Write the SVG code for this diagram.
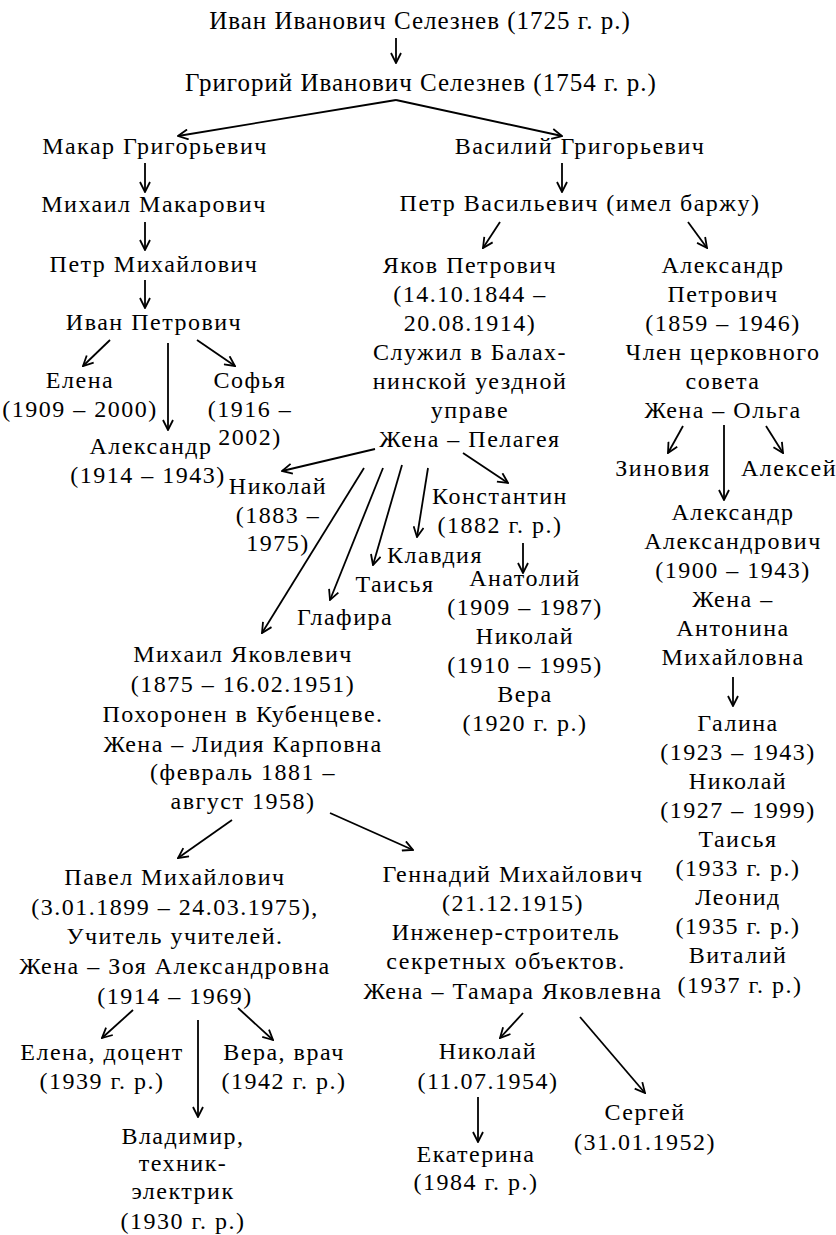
<svg xmlns="http://www.w3.org/2000/svg" width="836" height="1235" viewBox="0 0 836 1235">
<style>
text{font-family:"Liberation Serif","Times New Roman",serif;font-size:24px;letter-spacing:1.5px;fill:#000;text-anchor:middle}
.top{font-size:25px;letter-spacing:1px}
#edges line{stroke:#000;stroke-width:1.8;fill:none;marker-end:url(#ah)}
</style>
<defs>
<marker id="ah" viewBox="0 0 12 12" refX="11" refY="6" markerWidth="12" markerHeight="12" markerUnits="userSpaceOnUse" orient="auto">
<path d="M1,1 L11,6 L1,11" fill="none" stroke="#000" stroke-width="1.8"/>
</marker>
</defs>
<rect width="836" height="1235" fill="#fff"/>
<g id="edges">
<line x1="396" y1="38" x2="396" y2="63"/>
<line x1="396" y1="100" x2="178" y2="136"/>
<line x1="396" y1="100" x2="562" y2="136"/>
<line x1="145" y1="163" x2="145" y2="192"/>
<line x1="562" y1="163" x2="562" y2="192"/>
<line x1="145" y1="222" x2="145" y2="250"/>
<line x1="500" y1="222" x2="483" y2="248"/>
<line x1="688" y1="222" x2="707" y2="248"/>
<line x1="145" y1="280" x2="145" y2="308"/>
<line x1="110" y1="340" x2="83" y2="366"/>
<line x1="168" y1="343" x2="168" y2="430"/>
<line x1="197" y1="340" x2="235" y2="366"/>
<line x1="683" y1="426" x2="668" y2="453"/>
<line x1="724" y1="425" x2="724" y2="500"/>
<line x1="766" y1="426" x2="783" y2="453"/>
<line x1="733" y1="677" x2="733" y2="706"/>
<line x1="375" y1="449" x2="282" y2="471"/>
<line x1="364" y1="468" x2="262" y2="633"/>
<line x1="383" y1="468" x2="330" y2="600"/>
<line x1="402" y1="465" x2="373" y2="565"/>
<line x1="428" y1="468" x2="417" y2="537"/>
<line x1="463" y1="453" x2="508" y2="483"/>
<line x1="523" y1="543" x2="523" y2="573"/>
<line x1="232" y1="820" x2="178" y2="858"/>
<line x1="330" y1="813" x2="413" y2="850"/>
<line x1="133" y1="1010" x2="102" y2="1038"/>
<line x1="198" y1="1020" x2="198" y2="1117"/>
<line x1="238" y1="1008" x2="273" y2="1040"/>
<line x1="523" y1="1013" x2="500" y2="1038"/>
<line x1="580" y1="1017" x2="645" y2="1093"/>
<line x1="478" y1="1097" x2="478" y2="1142"/>
</g>
<g id="ivan-ivanovich"><text class="top" x="420" y="29">Иван Иванович Селезнев (1725 г. р.)</text></g>
<g id="grigory"><text class="top" x="421" y="91">Григорий Иванович Селезнев (1754 г. р.)</text></g>
<g id="makar"><text x="155" y="154">Макар Григорьевич</text></g>
<g id="vasily"><text x="580" y="154">Василий Григорьевич</text></g>
<g id="mikhail-makarovich"><text x="154" y="212">Михаил Макарович</text></g>
<g id="petr-vasilievich"><text x="580" y="211">Петр Васильевич (имел баржу)</text></g>
<g id="petr-mikhailovich"><text x="154" y="272">Петр Михайлович</text></g>
<g id="yakov"><text x="470" y="273">Яков Петрович</text><text x="470" y="302">(14.10.1844 –</text><text x="470" y="331">20.08.1914)</text><text x="470" y="360">Служил в Балах-</text><text x="470" y="389">нинской уездной</text><text x="470" y="418">управе</text><text x="470" y="447">Жена – Пелагея</text></g>
<g id="alexandr-petrovich"><text x="723" y="273">Александр</text><text x="723" y="302">Петрович</text><text x="723" y="331">(1859 – 1946)</text><text x="723" y="360">Член церковного</text><text x="723" y="389">совета</text><text x="723" y="418">Жена – Ольга</text></g>
<g id="ivan-petrovich"><text x="154" y="330">Иван Петрович</text></g>
<g id="elena-1909"><text x="80" y="388">Елена</text><text x="80" y="417">(1909 – 2000)</text></g>
<g id="sofia"><text x="250" y="388">Софья</text><text x="250" y="417">(1916 –</text><text x="250" y="445">2002)</text></g>
<g id="alexandr-1914"><text x="151" y="454">Александр</text><text x="148" y="483">(1914 – 1943)</text></g>
<g id="zinovia"><text x="663" y="476">Зиновия</text></g>
<g id="alexey"><text x="789" y="476">Алексей</text></g>
<g id="alexandr-alexandrovich"><text x="733" y="520">Александр</text><text x="733" y="549">Александрович</text><text x="733" y="578">(1900 – 1943)</text><text x="733" y="607">Жена –</text><text x="733" y="636">Антонина</text><text x="733" y="665">Михайловна</text></g>
<g id="aa-children"><text x="738" y="731">Галина</text><text x="738" y="760">(1923 – 1943)</text><text x="738" y="789">Николай</text><text x="738" y="818">(1927 – 1999)</text><text x="738" y="847">Таисья</text><text x="738" y="876">(1933 г. р.)</text><text x="738" y="905">Леонид</text><text x="738" y="934">(1935 г. р.)</text><text x="738" y="963">Виталий</text><text x="740" y="993">(1937 г. р.)</text></g>
<g id="nikolay-1883"><text x="278" y="494">Николай</text><text x="278" y="523">(1883 –</text><text x="278" y="551">1975)</text></g>
<g id="konstantin"><text x="500" y="504">Константин</text><text x="500" y="533">(1882 г. р.)</text></g>
<g id="klavdia"><text x="435" y="563">Клавдия</text></g>
<g id="taisya"><text x="395" y="592">Таисья</text></g>
<g id="glafira"><text x="345" y="625">Глафира</text></g>
<g id="konstantin-children"><text x="525" y="586">Анатолий</text><text x="525" y="615">(1909 – 1987)</text><text x="525" y="644">Николай</text><text x="525" y="673">(1910 – 1995)</text><text x="525" y="702">Вера</text><text x="525" y="731">(1920 г. р.)</text></g>
<g id="mikhail-yakovlevich"><text x="243" y="662">Михаил Яковлевич</text><text x="243" y="692">(1875 – 16.02.1951)</text><text x="243" y="722">Похоронен в Кубенцеве.</text><text x="243" y="752">Жена – Лидия Карповна</text><text x="243" y="780">(февраль 1881 –</text><text x="243" y="809">август 1958)</text></g>
<g id="pavel"><text x="175" y="885">Павел Михайлович</text><text x="175" y="915">(3.01.1899 – 24.03.1975),</text><text x="175" y="944">Учитель учителей.</text><text x="175" y="974">Жена – Зоя Александровна</text><text x="175" y="1004">(1914 – 1969)</text></g>
<g id="gennady"><text x="513" y="882">Геннадий Михайлович</text><text x="513" y="911">(21.12.1915)</text><text x="506" y="940">Инженер-строитель</text><text x="506" y="969">секретных объектов.</text><text x="513" y="999">Жена – Тамара Яковлевна</text></g>
<g id="elena-docent"><text x="102" y="1060">Елена, доцент</text><text x="102" y="1089">(1939 г. р.)</text></g>
<g id="vera-vrach"><text x="284" y="1060">Вера, врач</text><text x="284" y="1089">(1942 г. р.)</text></g>
<g id="vladimir"><text x="183" y="1144">Владимир,</text><text x="183" y="1171">техник-</text><text x="183" y="1199">электрик</text><text x="183" y="1229">(1930 г. р.)</text></g>
<g id="nikolay-1954"><text x="488" y="1059">Николай</text><text x="488" y="1089">(11.07.1954)</text></g>
<g id="ekaterina"><text x="476" y="1162">Екатерина</text><text x="476" y="1190">(1984 г. р.)</text></g>
<g id="sergey"><text x="645" y="1120">Сергей</text><text x="645" y="1150">(31.01.1952)</text></g>
</svg>
